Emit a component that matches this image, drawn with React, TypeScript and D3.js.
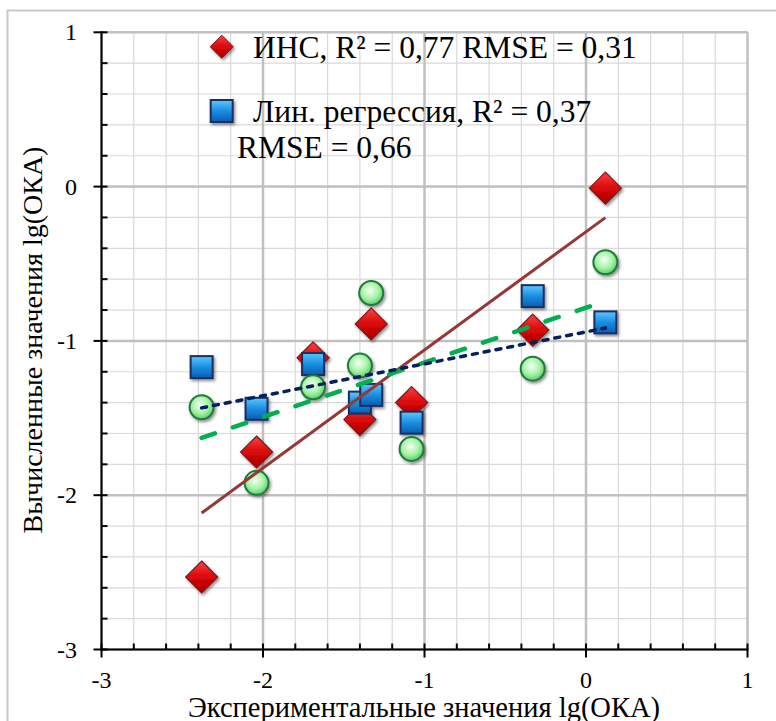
import React from "react";
import * as d3 from "d3";

// experimental lg(OKA) values (x axis)
const expValues = [-2.38, -2.04, -1.69, -1.4, -1.33, -1.08, -0.33, 0.12];
// calculated values, one array per model
const annValues = [-2.53, -1.72, -1.11, -1.51, -0.89, -1.4, -0.93, -0.01];
const linRegValues = [-1.17, -1.44, -1.15, -1.4, -1.35, -1.53, -0.71, -0.88];
const otherValues = [-1.43, -1.92, -1.3, -1.16, -0.69, -1.7, -1.18, -0.49];

const axisTicks = [-3, -2, -1, 0, 1];
const legendAnn = "ИНС, R² = 0,77 RMSE = 0,31";
const legendLin1 = "Лин. регрессия, R² = 0,37";
const legendLin2 = "RMSE = 0,66";
const xTitle = "Экспериментальные значения lg(ОКА)";
const yTitle = "Вычисленные значения lg(ОКА)";

const W = 776, H = 721;
const serif = { fontFamily: "Liberation Serif, Times New Roman, DejaVu Serif, serif" };

function linreg(xs: number[], ys: number[]) {
  const mx = d3.mean(xs)!, my = d3.mean(ys)!;
  let sxy = 0, sxx = 0;
  xs.forEach((x, i) => { sxy += (x - mx) * (ys[i] - my); sxx += (x - mx) * (x - mx); });
  const slope = sxy / sxx;
  return (x: number) => my + slope * (x - mx);
}

export default function App() {
  const x = d3.scaleLinear().domain([-3, 1]).range([101.5, 747.5]);
  const y = d3.scaleLinear().domain([-3, 1]).range([649.5, 32.3]);

  const minor = d3.range(-3, 1.0001, 0.2).map(v => +v.toFixed(1));
  const [xmin, xmax] = d3.extent(expValues) as [number, number];

  const trend = (ys: number[]) => {
    const f = linreg(expValues, ys);
    return d3.line<number>().x(v => x(v)).y(v => y(f(v)))([xmin, xmax])!;
  };

  const diamond = (cx: number, cy: number, r: number) =>
    `M${cx},${cy - r}L${cx + r},${cy}L${cx},${cy + r}L${cx - r},${cy}Z`;

  return (
    <div style={{ position: "absolute", left: 0, top: 0 }}>
      <svg width={W} height={H} style={{ display: "block", background: "#fff" }}>
        <defs>
          <linearGradient id="redG" x1="0" y1="0" x2="0" y2="1">
            <stop offset="0" stopColor="#ff4040" />
            <stop offset="0.5" stopColor="#d80808" />
            <stop offset="1" stopColor="#a80000" />
          </linearGradient>
          <linearGradient id="blueG" x1="0" y1="0" x2="0" y2="1">
            <stop offset="0" stopColor="#5cc8ff" />
            <stop offset="0.5" stopColor="#1a8ee0" />
            <stop offset="1" stopColor="#0a5cb0" />
          </linearGradient>
          <radialGradient id="greenG" cx="0.45" cy="0.4" r="0.6">
            <stop offset="0" stopColor="#f4fff4" />
            <stop offset="0.6" stopColor="#a4f2a4" />
            <stop offset="1" stopColor="#58cc68" />
          </radialGradient>
          <filter id="shadow" x="-50%" y="-50%" width="200%" height="200%">
            <feDropShadow dx="1.5" dy="2" stdDeviation="1.5" floodColor="#000" floodOpacity="0.45" />
          </filter>
        </defs>

        {/* outer chart border */}
        <rect x={7.5} y={10.5} width={820} height={800} fill="none" stroke="#c8c8c8" strokeWidth={2} />

        {/* minor grid */}
        <g stroke="#d9d9d9" strokeWidth={1.2}>
          {minor.map(v => (
            <line key={"vx" + v} x1={x(v)} x2={x(v)} y1={y(-3)} y2={y(1)} />
          ))}
          {minor.map(v => (
            <line key={"hy" + v} x1={x(-3)} x2={x(1)} y1={y(v)} y2={y(v)} />
          ))}
        </g>
        {/* major grid */}
        <g stroke="#c0c0c0" strokeWidth={2.5}>
          {axisTicks.map(v => (
            <line key={"Vx" + v} x1={x(v)} x2={x(v)} y1={y(-3)} y2={y(1)} />
          ))}
          {axisTicks.map(v => (
            <line key={"Hy" + v} x1={x(-3)} x2={x(1)} y1={y(v)} y2={y(v)} />
          ))}
        </g>

        {/* axes */}
        <g stroke="#000" strokeWidth={2}>
          <line x1={x(-3)} x2={x(-3)} y1={y(1) - 1} y2={y(-3) + 1} />
          <line x1={x(-3) - 1} x2={x(1) + 1} y1={y(-3)} y2={y(-3)} />
          {minor.map(v => (
            <g key={"t" + v}>
              <line x1={x(-3)} x2={x(-3) + 6} y1={y(v)} y2={y(v)} />
              <line x1={x(v)} x2={x(v)} y1={y(-3)} y2={y(-3) - 6} />
            </g>
          ))}
          {axisTicks.map(v => (
            <g key={"T" + v}>
              <line x1={x(-3) - 8} x2={x(-3)} y1={y(v)} y2={y(v)} />
              <line x1={x(v)} x2={x(v)} y1={y(-3)} y2={y(-3) + 8} />
            </g>
          ))}
        </g>

        {/* tick labels */}
        <g style={serif} fontSize={24} fill="#000">
          {axisTicks.map(v => (
            <text key={"yl" + v} x={77} y={y(v) + 8} textAnchor="end">{v}</text>
          ))}
          {axisTicks.map(v => (
            <text key={"xl" + v} x={x(v)} y={688} textAnchor="middle">{v}</text>
          ))}
        </g>

        {/* axis titles */}
        <text x={424} y={717} textAnchor="middle" style={serif} fontSize={28.5}>{xTitle}</text>
        <text transform={`translate(42,340) rotate(-90)`} textAnchor="middle" style={serif} fontSize={28}>{yTitle}</text>

        {/* markers */}
        <g filter="url(#shadow)">
          {expValues.map((v, i) => (
            <path key={"d" + i} d={diamond(x(v), y(annValues[i]), 16)} fill="url(#redG)" stroke="#7a1a1a" strokeWidth={1.2} />
          ))}
          {expValues.map((v, i) => (
            <rect key={"s" + i} x={x(v) - 11} y={y(linRegValues[i]) - 11} width={22} height={22}
              fill="url(#blueG)" stroke="#1c2f5e" strokeWidth={2} />
          ))}
          {expValues.map((v, i) => (
            <circle key={"c" + i} cx={x(v)} cy={y(otherValues[i])} r={12}
              fill="url(#greenG)" stroke="#1f7a3a" strokeWidth={2} />
          ))}
        </g>

        {/* trend lines */}
        <path d={trend(annValues)} fill="none" stroke="#953735" strokeWidth={3} />
        <path d={trend(otherValues)} fill="none" stroke="#00b050" strokeWidth={4.5}
          strokeDasharray="14 19" strokeLinecap="round" />
        <path d={trend(linRegValues)} fill="none" stroke="#002060" strokeWidth={3.5}
          strokeDasharray="5 7" strokeLinecap="round" />

        {/* legend */}
        <g filter="url(#shadow)">
          <path d={diamond(221.7, 46.7, 11.5)} fill="url(#redG)" stroke="#7a1a1a" strokeWidth={1} />
          <rect x={210.7} y={100} width={22} height={22} fill="url(#blueG)" stroke="#1c2f5e" strokeWidth={2} />
        </g>
        <g style={serif} fontSize={31.5} fill="#000">
          <text x={253} y={58}>{legendAnn}</text>
          <text x={253} y={122}>{legendLin1}</text>
          <text x={237} y={158}>{legendLin2}</text>
        </g>
      </svg>
    </div>
  );
}
